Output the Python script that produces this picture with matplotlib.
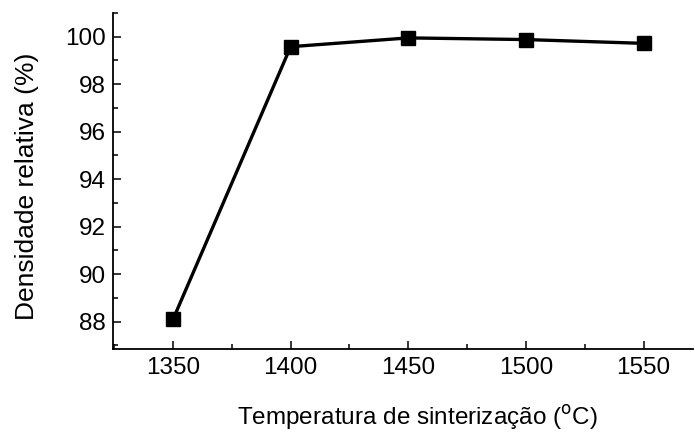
import matplotlib
matplotlib.use("Agg")
import matplotlib.pyplot as plt
from matplotlib.ticker import MultipleLocator

temp = [1350, 1400, 1450, 1500, 1550]
dens = [88.1, 99.58, 99.95, 99.88, 99.72]

plt.rcParams['font.family'] = ['Liberation Sans', 'DejaVu Sans']

fig = plt.figure(figsize=(6.95, 4.32), dpi=100)
ax = fig.add_axes([0.163, 0.192, 0.834, 0.778])
ax.plot(temp, dens, color='black', lw=2.4, marker='s', ms=9.5, mfc='black', mec='black')

ax.set_xlim(1324.6, 1571)
ax.set_ylim(86.85, 101)
ax.xaxis.set_major_locator(MultipleLocator(50))
ax.xaxis.set_minor_locator(MultipleLocator(25))
ax.yaxis.set_major_locator(MultipleLocator(2))
ax.yaxis.set_minor_locator(MultipleLocator(1))
ax.spines['top'].set_visible(False)
ax.spines['right'].set_visible(False)
for s in ['left', 'bottom']:
    ax.spines[s].set_linewidth(1.3)
ax.tick_params(which='both', direction='in', width=1.1, labelsize=17.5, pad=5.5)
ax.tick_params(which='major', length=6)
ax.tick_params(which='minor', length=3.5)

ax.set_xlabel('Temperatura de sinterização ($^{\\rm o}$C)', fontsize=17.5)
ax.xaxis.label.set_va('baseline')
ax.set_ylabel('Densidade relativa (%)', fontsize=19)
ax.xaxis.set_label_coords(0.524, -0.225)
ax.yaxis.set_label_coords(-0.128, 0.485)

fig.savefig('out.png', dpi=100)
